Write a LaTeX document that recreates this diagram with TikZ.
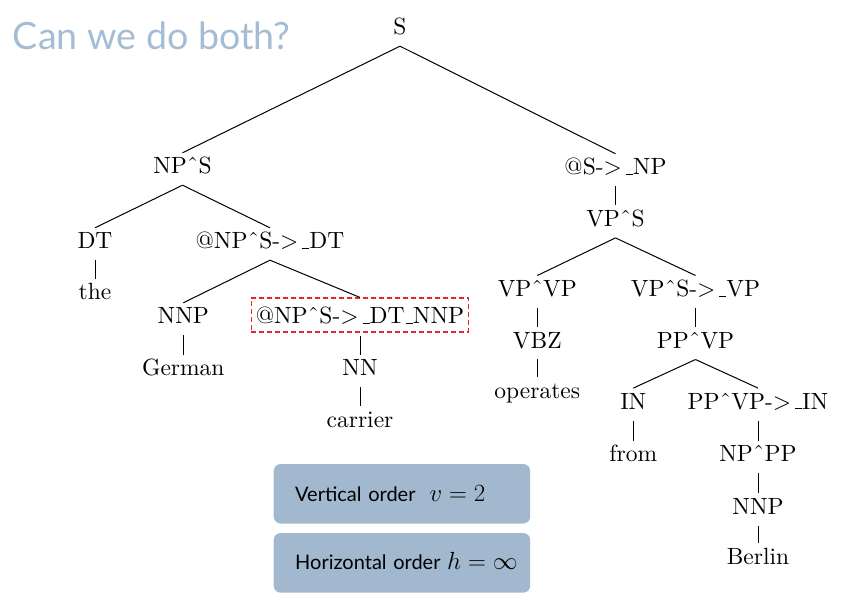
\documentclass[tikz,border=0pt]{standalone}
\usepackage{fix-cm}
\usepackage{fontspec}
\newfontfamily\treefont[Extension=.otf]{lmroman10-regular}
\newfontfamily\gillfont{Lato}
\definecolor{titleblue}{HTML}{A5BDD4}
\definecolor{boxblue}{HTML}{A2B8CF}
\definecolor{dashred}{HTML}{E8262A}
\newcommand\hatc{\char"02C6}
\newcommand\usc{\leavevmode\kern.06em\vbox{\hrule width.3em height.04em}}
\newcommand\arr{->\kern2.5pt\usc}
\newcommand\bigmath[1]{{\fontsize{24.8}{30}\selectfont$#1$}}
\tikzset{
  tn/.style={font=\treefont\fontsize{23.5}{28}\selectfont, anchor=base, inner sep=0pt, text height=21pt, text depth=11pt},
  redbox/.style={tn, draw=dashred, line width=1.1pt, dash pattern=on 5pt off 3pt, inner xsep=4.5pt, text height=26pt, text depth=8pt},
  br/.style={line width=1pt, black},
  infobox/.style={anchor=west, fill=boxblue, rounded corners=7pt, inner ysep=0pt, inner xsep=21.5pt, text width=213.5pt, align=left, font=\gillfont\fontsize{20}{24}\selectfont},
}
\begin{document}
\begin{tikzpicture}[x=1pt,y=-1pt]
\useasboundingbox (0,0) rectangle (843,609);
\node[anchor=base west, inner sep=0pt, text=titleblue, font=\gillfont\fontsize{37.6}{44}\selectfont] (title) at (12.7,49.3) {Can we do both?};

\node[tn] (S) at (400,35) {S};
\node[tn] (nps) at (182.5,174) {NP\hatc S};
\node[tn] (atsnp) at (615.5,175) {@S\arr NP};
\node[tn] (dt) at (95,249) {DT};
\node[tn] (atnpsdt) at (270,249) {@NP\hatc S\arr DT};
\node[tn] (the) at (95,300) {the};
\node[tn] (nnpa) at (183.3,324) {NNP};
\node[redbox] (box) at (360,324) {@NP\hatc S\arr DT\usc NNP};
\node[tn] (german) at (183.3,376) {German};
\node[tn] (nn) at (360,376) {NN};
\node[tn] (carrier) at (360,427) {carrier};
\node[tn] (vps) at (615.5,226.7) {VP\hatc S};
\node[tn] (vpvp) at (537.3,296.7) {VP\hatc VP};
\node[tn] (vpsvp) at (695.5,296.7) {VP\hatc S\arr VP};
\node[tn] (vbz) at (537.3,348.3) {VBZ};
\node[tn] (operates) at (537.3,398.3) {operates};
\node[tn] (ppvp) at (695.5,348.3) {PP\hatc VP};
\node[tn] (in) at (633.3,409.3) {IN};
\node[tn] (ppvpin) at (758,409.3) {PP\hatc VP\arr IN};
\node[tn] (from) at (633.3,461.7) {from};
\node[tn] (nppp) at (758,461.7) {NP\hatc PP};
\node[tn] (nnpb) at (758,514.3) {NNP};
\node[tn] (berlin) at (758,564.3) {Berlin};

\draw[br] (S.south) -- (nps.north);
\draw[br] (S.south) -- (atsnp.north);
\draw[br] (nps.south) -- (dt.north);
\draw[br] (nps.south) -- (atnpsdt.north);
\draw[br] (dt.south) -- (the.north);
\draw[br] (atnpsdt.south) -- (nnpa.north);
\draw[br] (atnpsdt.south) -- (box.north);
\draw[br] (nnpa.south) -- (german.north);
\draw[br, shorten <=3pt] (box.south) -- (nn.north);
\draw[br] (nn.south) -- (carrier.north);
\draw[br] (atsnp.south) -- (vps.north);
\draw[br] (vps.south) -- (vpvp.north);
\draw[br] (vps.south) -- (vpsvp.north);
\draw[br] (vpvp.south) -- (vbz.north);
\draw[br] (vbz.south) -- (operates.north);
\draw[br] (vpsvp.south) -- (ppvp.north);
\draw[br] (ppvp.south) -- (in.north);
\draw[br] (ppvp.south) -- (ppvpin.north);
\draw[br] (in.south) -- (from.north);
\draw[br] (ppvpin.south) -- (nppp.north);
\draw[br] (nppp.south) -- (nnpb.north);
\draw[br] (nnpb.south) -- (berlin.north);

\node[infobox, text height=37.7pt, text depth=21.8pt] (vert) at (273.5,493.75) {\makebox[213.5pt][l]{Vertical order\hspace{14pt}\bigmath{v=2}}};
\node[infobox, text height=36.3pt, text depth=23.4pt] (horiz) at (273.5,562.85) {\makebox[213.5pt][l]{Horizontal order \bigmath{h=\infty}}};
\end{tikzpicture}
\end{document}
